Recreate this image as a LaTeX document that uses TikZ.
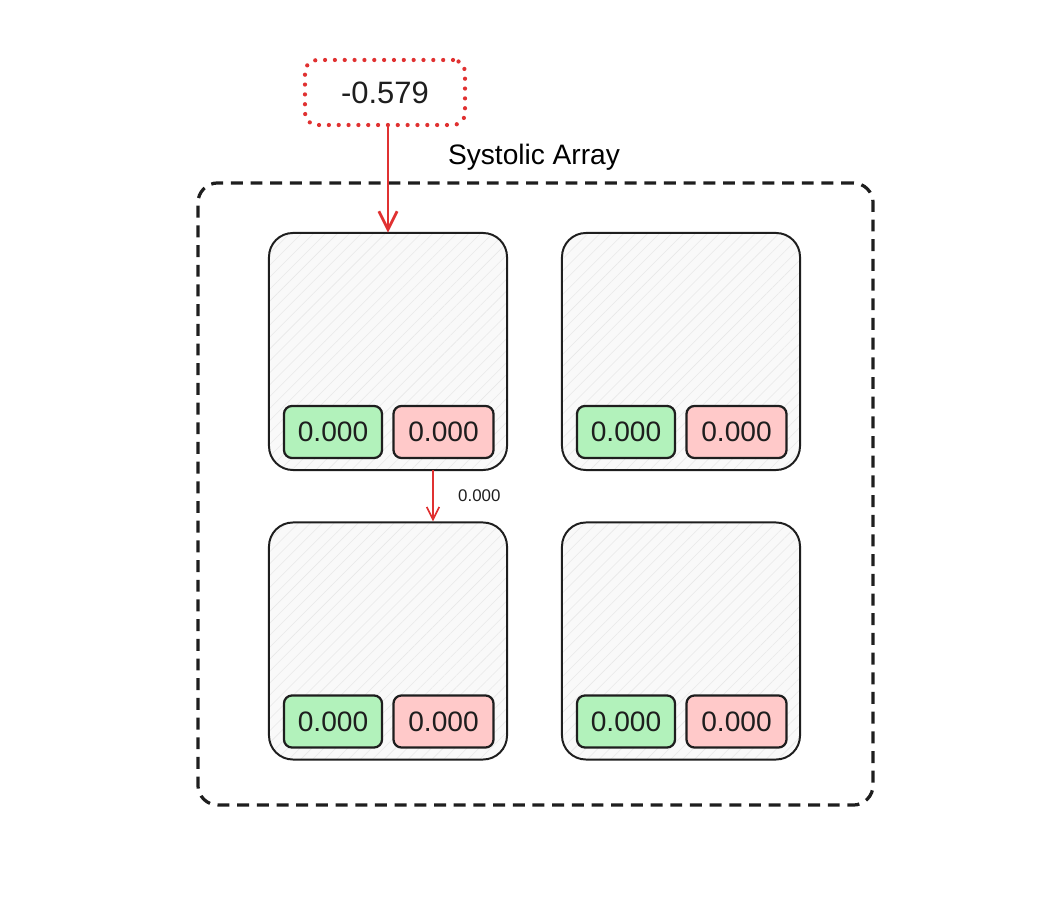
\documentclass[tikz,border=0pt]{standalone}
\usepackage{fontspec}
\setmainfont{Liberation Sans}
\usetikzlibrary{arrows.meta,patterns.meta}

\definecolor{penred}{HTML}{E03131}
\definecolor{ink}{HTML}{1E1E1E}
\definecolor{accgreen}{HTML}{B2F2BB}
\definecolor{wtpink}{HTML}{FFC9C9}

\begin{document}
\begin{tikzpicture}
  [
    x = 0.025cm, y = -0.025cm,
    pe/.style = {draw = ink, line width = 1.4pt, rounded corners = 0.6cm,
        minimum width = 5.95cm, minimum height = 5.925cm,
        preaction = {fill = gray!5},
        pattern = {Lines[angle=45, distance=6pt, line width=0.4pt]},
        pattern color = gray!18},
    cell/.style = {draw = ink, line width = 1.6pt, rounded corners = 0.2cm,
        minimum height = 1.3cm, font = \fontsize{20}{20}\selectfont, text = ink},
    redarrow/.style = {draw = penred, line width = 2pt,
        -{Straight Barb[length = 13pt, width = 13pt]}},
  ]

  \useasboundingbox (0,0) rectangle (1060,905);

  % outer frame
  \node (array) [draw = ink, line width = 2.3pt, dash pattern = on 8.5pt off 5.5pt,
    rounded corners = 0.5cm, minimum width = 16.875cm, minimum height = 15.55cm]
    at (535.5,494) {};
  \node (title) at (534,157) {\fontsize{20}{20}\selectfont Systolic Array};

  % input value
  \node (input) [draw = penred, line width = 3pt, line cap = round,
    dash pattern = on 0pt off 7pt, rounded corners = 0.3cm,
    minimum width = 4cm, minimum height = 1.625cm,
    font = \fontsize{22}{22}\selectfont, text = ink]
    at (385,92.5) {-0.579};

  % processing elements
  \foreach \r/\yy in {1/351.5, 2/641}{
      \foreach \c/\xx in {1/388, 2/681} {
          \node (pe\r\c) [pe] at (\xx,\yy) {};
          \node (acc\r\c) [cell, fill = accgreen, minimum width = 2.45cm]
            at (\xx-55,\yy+80.5) {0.000};
          \node (wt\r\c) [cell, fill = wtpink, minimum width = 2.5cm]
            at (\xx+55.5,\yy+80.5) {0.000};
        }
    }

  \draw [redarrow] (input.south -| pe11.north) -- (pe11.north);

  \coordinate (down1) at (433,0);
  \draw [draw = penred, line width = 1.2pt, -{Straight Barb[length = 9pt, width = 9pt]}]
    (pe11.south -| down1) -- (pe21.north -| down1)
    node [midway, right = 14pt, font = \fontsize{12}{12}\selectfont, text = ink] {0.000};

\end{tikzpicture}
\end{document}
